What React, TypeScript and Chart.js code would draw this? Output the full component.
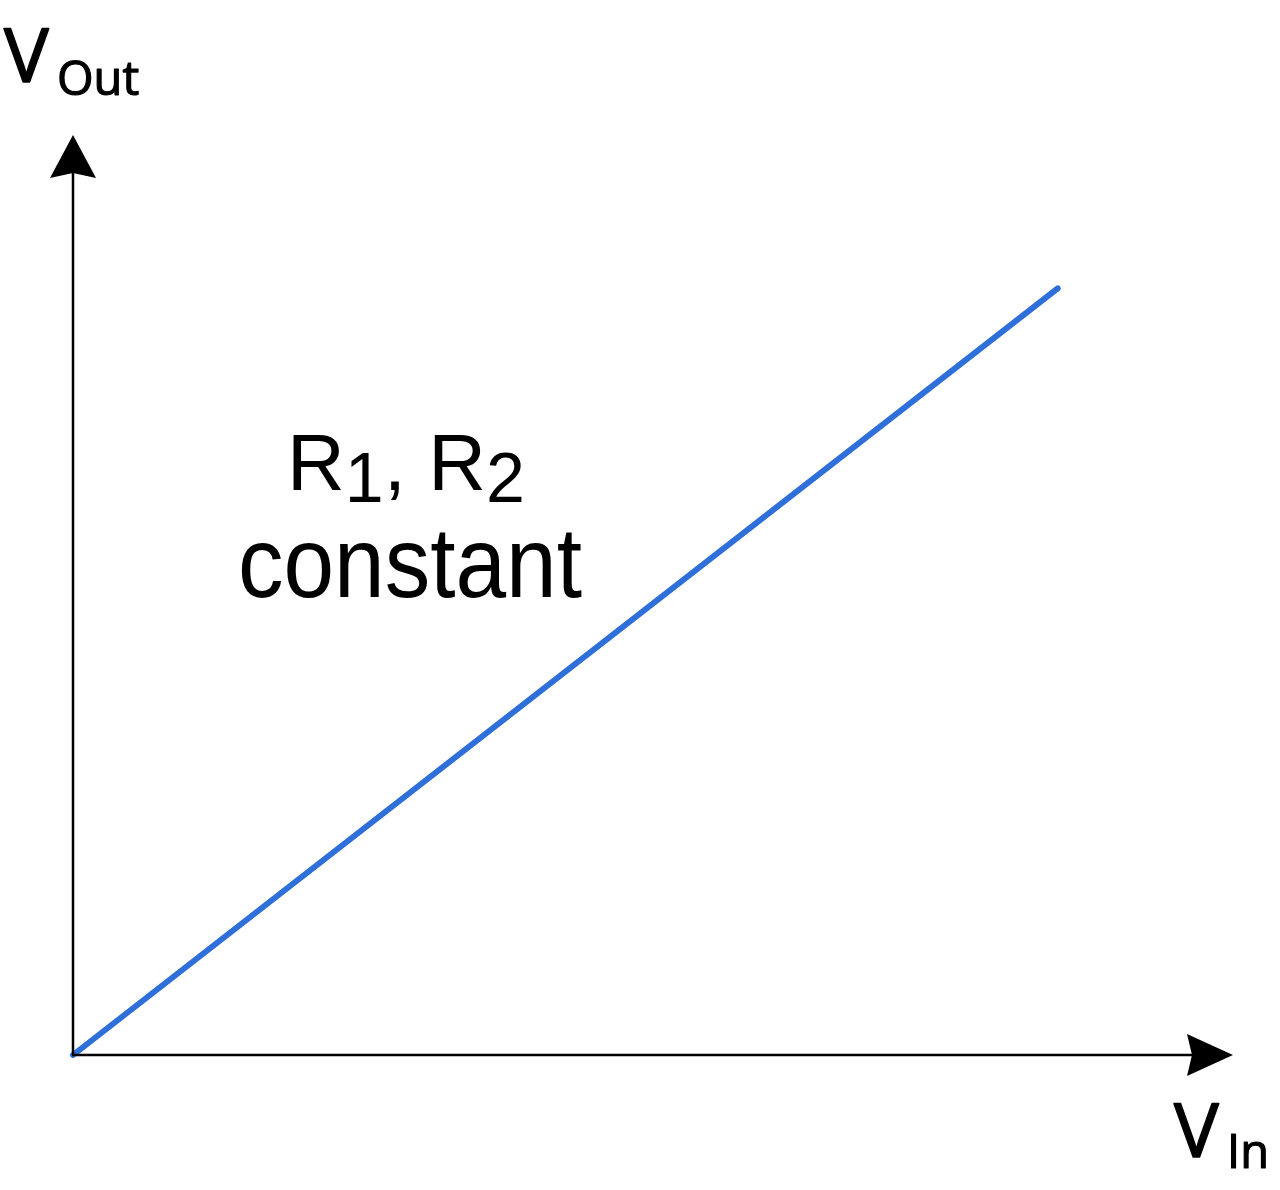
import React, { useEffect, useRef } from "react";
import { Chart, registerables } from "chart.js";

Chart.register(...registerables);

// Data
const vIn: number[] = [0, 10];
const vOut: number[] = [0, 10];
const xAxisMax = 11.78;
const yAxisMax = 12;
const yLabelMain = "V";
const yLabelSub = "Out";
const xLabelMain = "V";
const xLabelSub = "In";
const noteLine1 = [
  { t: "R", sub: false },
  { t: "1", sub: true },
  { t: ", ", sub: false },
  { t: "R", sub: false },
  { t: "2", sub: true },
];
const noteLine2 = "constant";

function boldish(ctx: CanvasRenderingContext2D, t: string, x: number, y: number, w: number) {
  ctx.fillText(t, x, y);
  ctx.lineWidth = w;
  ctx.lineJoin = "round";
  ctx.strokeText(t, x, y);
}

const axesPlugin = {
  id: "axesAndText",
  afterDraw(chart: any) {
    const ctx = chart.ctx as CanvasRenderingContext2D;
    const xs = chart.scales.x;
    const ys = chart.scales.y;
    const ox = xs.getPixelForValue(0);
    const oy = ys.getPixelForValue(0);
    const xEnd = xs.getPixelForValue(xAxisMax);
    const yEnd = ys.getPixelForValue(yAxisMax);
    ctx.save();
    ctx.strokeStyle = "#000";
    ctx.fillStyle = "#000";
    ctx.lineWidth = 2.5;
    // y axis
    ctx.beginPath();
    ctx.moveTo(ox, oy);
    ctx.lineTo(ox, yEnd + 30);
    ctx.stroke();
    // x axis
    ctx.beginPath();
    ctx.moveTo(ox - 1, oy);
    ctx.lineTo(xEnd - 30, oy);
    ctx.stroke();
    // y arrowhead
    ctx.beginPath();
    ctx.moveTo(ox, yEnd);
    ctx.lineTo(ox - 23, yEnd + 43);
    ctx.lineTo(ox, yEnd + 38);
    ctx.lineTo(ox + 23, yEnd + 43);
    ctx.closePath();
    ctx.fill();
    // x arrowhead
    ctx.beginPath();
    ctx.moveTo(xEnd, oy);
    ctx.lineTo(xEnd - 46, oy - 21);
    ctx.lineTo(xEnd - 41, oy);
    ctx.lineTo(xEnd - 46, oy + 21);
    ctx.closePath();
    ctx.fill();

    // axis labels
    ctx.textAlign = "left";
    ctx.textBaseline = "alphabetic";
    ctx.font = '75px "Open Sans"';
    boldish(ctx, yLabelMain, 4, 82, 1.6);
    ctx.font = '47px "Open Sans"';
    boldish(ctx, yLabelSub, 57, 95, 1.2);

    ctx.font = '75px "Open Sans"';
    boldish(ctx, xLabelMain, 1174, 1157, 1.6);
    ctx.font = '47px "Open Sans"';
    boldish(ctx, xLabelSub, 1227, 1168, 1.2);

    // note
    const mainFont = '80px "Liberation Sans"';
    const subFont = '70px "Liberation Sans"';
    let total = 0;
    for (const p of noteLine1) {
      ctx.font = p.sub ? subFont : mainFont;
      total += ctx.measureText(p.t).width;
    }
    let x = 406 - total / 2;
    for (const p of noteLine1) {
      ctx.font = p.sub ? subFont : mainFont;
      ctx.fillText(p.t, x, p.sub ? 502 : 490);
      x += ctx.measureText(p.t).width;
    }
    ctx.textAlign = "center";
    ctx.font = '91px "Liberation Sans"';
    ctx.save();
    ctx.translate(410, 597);
    ctx.scale(1, 1.1);
    ctx.fillText(noteLine2, 0, 0);
    ctx.restore();
    ctx.restore();
  },
};

export default function App() {
  const ref = useRef<HTMLCanvasElement>(null);
  useEffect(() => {
    document.body.style.margin = "0";
    const canvas = ref.current!;
    const chart = new Chart(canvas, {
      type: "line",
      data: {
        datasets: [
          {
            data: vIn.map((v, i) => ({ x: v, y: vOut[i] })),
            borderColor: "#2F6FD9",
            borderWidth: 6,
            borderCapStyle: "round",
            pointRadius: 0,
            fill: false,
            tension: 0,
            clip: false as any,
          },
        ],
      },
      options: {
        responsive: false,
        animation: false,
        devicePixelRatio: 1,
        layout: { padding: { left: 73, top: 135, right: 47, bottom: 135 } },
        plugins: { legend: { display: false }, tooltip: { enabled: false } },
        scales: {
          x: { type: "linear", min: 0, max: xAxisMax, display: false },
          y: { type: "linear", min: 0, max: yAxisMax, display: false },
        },
      },
      plugins: [axesPlugin],
    });
    return () => chart.destroy();
  }, []);
  return (
    <div style={{ position: "absolute", left: 0, top: 0, width: 1280, height: 1190, background: "#fff" }}>
      <canvas ref={ref} width={1280} height={1190} style={{ width: 1280, height: 1190 }} />
    </div>
  );
}
